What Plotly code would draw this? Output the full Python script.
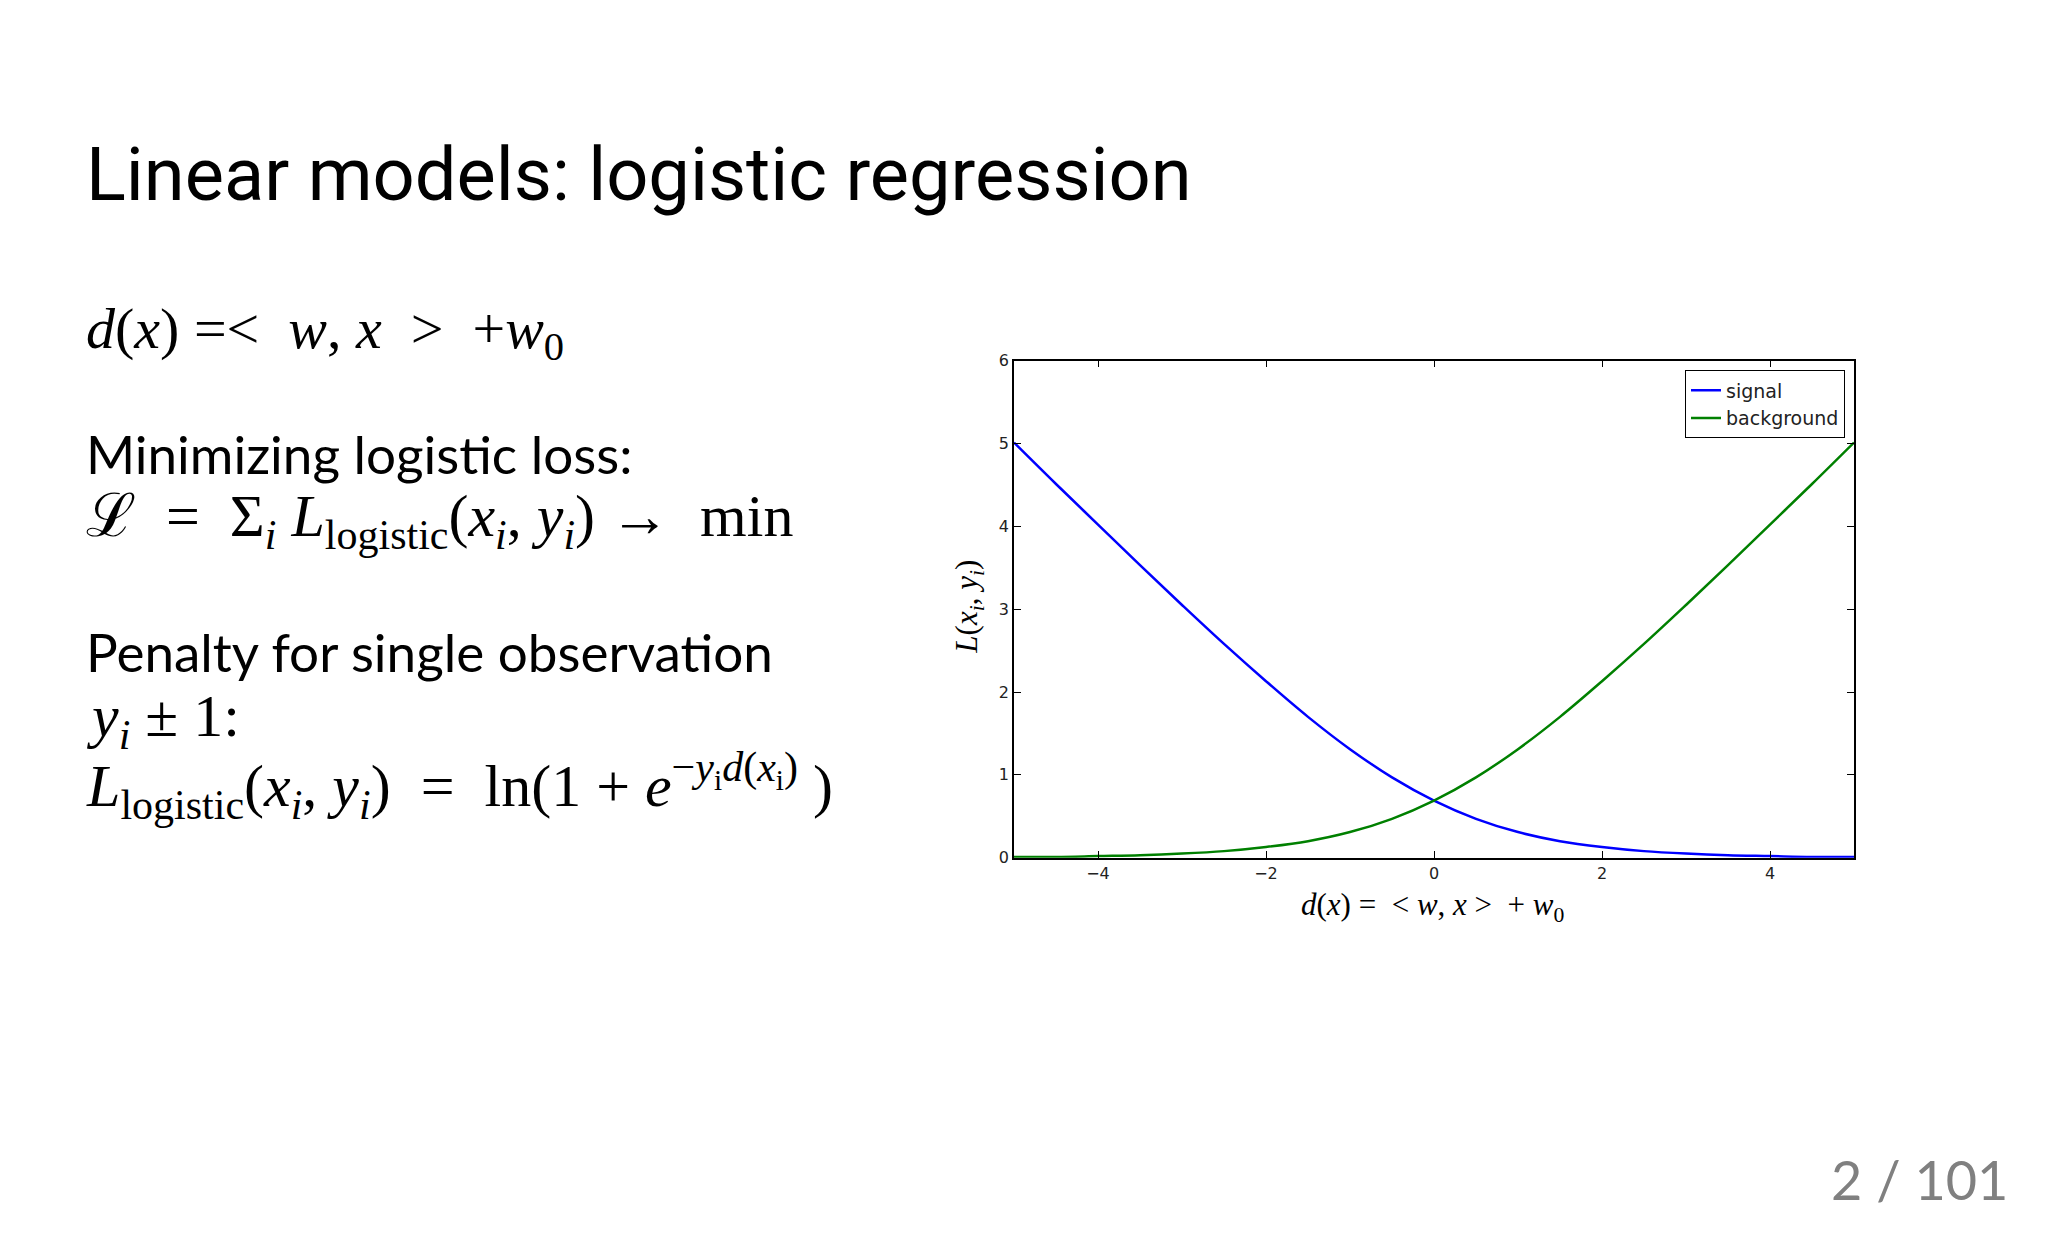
import plotly.graph_objects as go

# ---- data ----
d_values = [-5.0, -4.5, -4.0, -3.5, -3.0, -2.5, -2.0, -1.5, -1.0, -0.5, 0.0,
            0.5, 1.0, 1.5, 2.0, 2.5, 3.0, 3.5, 4.0, 4.5, 5.0]
signal_loss = [5.01, 4.51, 4.02, 3.53, 3.05, 2.58, 2.13, 1.70, 1.31, 0.97, 0.69,
               0.47, 0.31, 0.20, 0.13, 0.08, 0.05, 0.03, 0.02, 0.01, 0.01]
background_loss = [0.01, 0.01, 0.02, 0.03, 0.05, 0.08, 0.13, 0.20, 0.31, 0.47, 0.69,
                   0.97, 1.31, 1.70, 2.13, 2.58, 3.05, 3.53, 4.02, 4.51, 5.01]
series_names = ["signal", "background"]
x_ticks = [-4, -2, 0, 2, 4]
x_tick_labels = ["\u22124", "\u22122", "0", "2", "4"]
y_ticks = [0, 1, 2, 3, 4, 5, 6]

W, H = 2048, 1236
def px(x):
    return x / W
def py(y):
    return 1 - y / H

fig = go.Figure()
fig.add_trace(go.Scatter(x=d_values, y=signal_loss, mode="lines", name=series_names[0],
                         line=dict(color="#0000ff", width=2.5, shape="spline")))
fig.add_trace(go.Scatter(x=d_values, y=background_loss, mode="lines", name=series_names[1],
                         line=dict(color="#008000", width=2.5, shape="spline")))

tickfont = dict(family="DejaVu Sans, sans-serif", size=16, color="#222")
axis_common = dict(showgrid=False, zeroline=False, showline=True, linecolor="black",
                   linewidth=1.5, mirror="allticks", ticks="inside", ticklen=7,
                   tickcolor="black", tickwidth=1, tickfont=tickfont)

fig.update_layout(
    width=W, height=H,
    margin=dict(l=0, r=0, t=0, b=0),
    paper_bgcolor="white", plot_bgcolor="white",
    showlegend=True,
    legend=dict(x=px(1845), y=py(367), xanchor="right", yanchor="top",
                bordercolor="black", borderwidth=1, bgcolor="white",
                font=dict(family="DejaVu Sans, sans-serif", size=19, color="#222")),
    xaxis=dict(domain=[px(1014), px(1854)], range=[-5, 5],
               tickvals=x_ticks, ticktext=x_tick_labels, **axis_common),
    yaxis=dict(domain=[py(862), py(357)], range=[0, 6],
               tickvals=y_ticks, **axis_common),
)

serif = "Liberation Serif, Times New Roman, serif"
sans = "Lato, Noto Sans, sans-serif"
sp = "\u00a0"

def note(text, x, y, size, family, color="black", xanchor="left", yanchor="middle", angle=0):
    fig.add_annotation(text=text, x=x, y=y, xref="paper", yref="paper",
                       xanchor=xanchor, yanchor=yanchor, showarrow=False, textangle=angle,
                       font=dict(family=family, size=size, color=color))

# axis labels
note("<i>d</i>(<i>x</i>)" + sp + "=" + sp * 2 + "&lt;" + sp + "<i>w</i>," + sp + "<i>x</i>" + sp
     + "&gt;" + sp * 2 + "+" + sp + "<i>w</i><sub>0</sub>",
     px(1433), py(912), 31, serif, xanchor="center")
note("<i>L</i>(<i>x</i><sub><i>i</i></sub>," + sp + "<i>y</i><sub><i>i</i></sub>)",
     px(969), py(607), 31, serif, xanchor="center", angle=-90)

# slide title and text
note("Linear models: logistic regression", px(84), py(168), 74,
     "Roboto, DejaVu Sans, sans-serif")
note("<i>d</i>(<i>x</i>)" + sp + "=&lt;" + sp * 2 + "<i>w</i>," + sp + "<i>x</i>" + sp * 2
     + "&gt;" + sp * 2 + "+<i>w</i><sub>0</sub>",
     px(84), py(329), 58, serif)
note("Minimizing logistic loss:", px(84), py(451), 53, sans)
note("\u2112" + sp * 2 + "=" + sp * 2 + "\u03a3<sub><i>i</i></sub>" + sp
     + "<i>L</i><sub>logistic</sub>(<i>x</i><sub><i>i</i></sub>," + sp
     + "<i>y</i><sub><i>i</i></sub>)" + sp + "\u2192" + sp * 2 + "min",
     px(84), py(519), 60, serif)
note("Penalty for single observation", px(84), py(653), 53, sans)
note("<i>y</i><sub><i>i</i></sub>" + sp + "\u00b1" + sp + "1:", px(84), py(723), 60, serif)
note("<i>L</i><sub>logistic</sub>(<i>x</i><sub><i>i</i></sub>," + sp + "<i>y</i><sub><i>i</i></sub>)"
     + sp * 2 + "=" + sp * 2 + "ln(1" + sp + "+" + sp
     + "<i>e</i><sup>\u2212<i>y</i><sub>i</sub><i>d</i>(<i>x</i><sub>i</sub>)</sup>" + sp + ")",
     px(84), py(789), 60, serif)
note("2 / 101", px(2010), py(1189), 54, sans, color="#808080", xanchor="right")

fig.write_html("out.html", config={"displayModeBar": False},
               post_script="document.body.style.margin='0';")
